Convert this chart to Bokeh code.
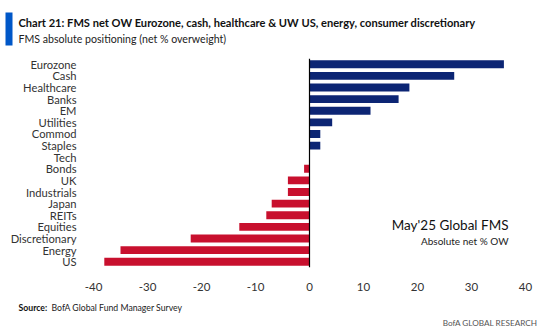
from bokeh.plotting import figure
from bokeh.layouts import column
from bokeh.models import ColumnDataSource, FactorRange, FixedTicker, Span, Label, BoxAnnotation
from bokeh.embed import file_html
from bokeh.resources import INLINE

categories = ["Eurozone", "Cash", "Healthcare", "Banks", "EM", "Utilities", "Commod", "Staples",
              "Tech", "Bonds", "UK", "Industrials", "Japan", "REITs", "Equities",
              "Discretionary", "Energy", "US"]
values = [36, 26.8, 18.5, 16.5, 11.3, 4.2, 2, 2, 0, -1, -4, -4, -7, -8, -13, -22, -35, -38]
x_ticks = [-40, -30, -20, -10, 0, 10, 20, 30, 40]

title_text = "Chart 21: FMS net OW Eurozone, cash, healthcare & UW US, energy, consumer discretionary"
subtitle_text = "FMS absolute positioning (net % overweight)"
note_main = "May'25 Global FMS"
note_sub = "Absolute net % OW"
source_label = "Source:"
source_text = "BofA Global Fund Manager Survey"
brand_text = "BofA GLOBAL RESEARCH"

BLUE = "#0C2574"
RED = "#C8102E"
FONT = "Lato"

W = 546
HEAD_H, MAIN_H, FOOT_H = 50, 245, 36
L, R, T, B = 93, 21, 8, 28


def bare(h):
    f = figure(width=W, height=h, output_backend="svg", toolbar_location=None,
               x_range=(0, W), y_range=(0, h), x_axis_location=None, y_axis_location=None,
               min_border=0, min_border_left=0, min_border_right=0,
               min_border_top=0, min_border_bottom=0, frame_align=False)
    f.outline_line_color = None
    f.xgrid.visible = False
    f.ygrid.visible = False
    f.border_fill_color = "white"
    return f


def lab(f, h, text, cx, cy, size, bold=False, color="#222222", align="left", offset_y=0):
    f.add_layout(Label(x=cx, y=h - (cy - offset_y), x_units="screen", y_units="screen",
                       text=text, text_font=FONT, text_font_size=size, text_color=color,
                       text_font_style="bold" if bold else "normal",
                       text_align=align, text_baseline="middle"))


# header
head = bare(HEAD_H)
head.add_layout(BoxAnnotation(left=5, right=12, top=HEAD_H - 12, bottom=HEAD_H - 45,
                              left_units="screen", right_units="screen",
                              top_units="screen", bottom_units="screen",
                              fill_color="#0057C8", fill_alpha=1, line_color=None))
lab(head, HEAD_H, title_text, 18, 22, "11.1px", bold=True, color="#111111")
lab(head, HEAD_H, subtitle_text, 18, 38, "10.6px", color="#222222")

# main chart
colors = [BLUE if v >= 0 else RED for v in values]
src = ColumnDataSource(dict(cat=categories, val=values, color=colors))

p = figure(width=W, height=MAIN_H, output_backend="svg", toolbar_location=None,
           y_range=FactorRange(factors=list(reversed(categories))),
           x_range=(-40, 40), frame_align=False,
           min_border_left=L, min_border_right=R, min_border_top=T, min_border_bottom=B)
p.outline_line_color = None
p.background_fill_color = "white"
p.border_fill_color = "white"
p.xgrid.visible = False
p.ygrid.visible = False

p.hbar(y="cat", right="val", left=0, height=0.68, color="color", source=src, line_color=None)
p.add_layout(Span(location=0, dimension="height", line_color="black", line_width=1.2))

p.xaxis.ticker = FixedTicker(ticks=x_ticks)
p.xaxis.major_label_overrides = {t: str(t) for t in x_ticks}
p.xaxis.axis_line_color = None
p.xaxis.major_tick_line_color = None
p.xaxis.minor_tick_line_color = None
p.xaxis.major_label_text_font = FONT
p.xaxis.major_label_text_font_size = "11.5px"
p.xaxis.major_label_text_color = "#333333"
p.xaxis.major_label_standoff = 9

p.yaxis.axis_line_color = None
p.yaxis.major_tick_line_color = None
p.yaxis.minor_tick_line_color = None
p.yaxis.major_label_text_font = FONT
p.yaxis.major_label_text_font_size = "11.2px"
p.yaxis.major_label_text_color = "#333333"
p.yaxis.major_label_standoff = 11

# note inside the plot frame (frame-relative screen coords)
frame_bottom = MAIN_H - B
p.add_layout(Label(x=508 - L, y=frame_bottom - (224 - HEAD_H), x_units="screen", y_units="screen",
                   text=note_main, text_font=FONT, text_font_size="13.5px", text_color="#111111",
                   text_align="right", text_baseline="middle"))
p.add_layout(Label(x=508 - L, y=frame_bottom - (240 - HEAD_H), x_units="screen", y_units="screen",
                   text=note_sub, text_font=FONT, text_font_size="10px", text_color="#222222",
                   text_align="right", text_baseline="middle"))

# footer
foot = bare(FOOT_H)
off = HEAD_H + MAIN_H
lab(foot, FOOT_H, source_label, 18, 307, "8.7px", bold=True, color="#111111", offset_y=off)
lab(foot, FOOT_H, source_text, 51, 307, "8.7px", color="#222222", offset_y=off)
lab(foot, FOOT_H, brand_text, 537, 322, "8.2px", align="right", color="#555555", offset_y=off)

layout = column(head, p, foot, spacing=0)
open("out.html", "w").write(file_html(layout, INLINE))
